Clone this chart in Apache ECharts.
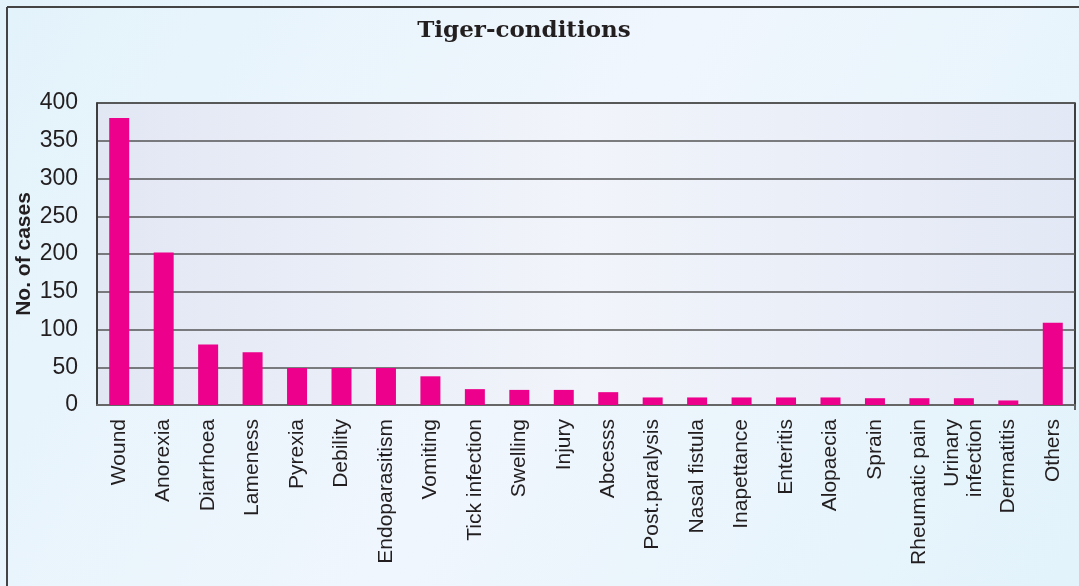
<!DOCTYPE html>
<html>
<head>
<meta charset="utf-8">
<script src="https://cdn.jsdelivr.net/npm/echarts@6/dist/echarts.min.js"></script>
<style>
  html, body { margin: 0; padding: 0; }
  #chart { width: 1079px; height: 586px; }
</style>
</head>
<body>
<div id="chart"></div>
<script>
// Conditions recorded in tigers and number of cases for each
const conditions = [
  'Wound', 'Anorexia', 'Diarrhoea', 'Lameness', 'Pyrexia', 'Debility',
  'Endoparasitism', 'Vomiting', 'Tick infection', 'Swelling', 'Injury',
  'Abcesss', 'Post.paralysis', 'Nasal fistula', 'Inapettance', 'Enteritis',
  'Alopaecia', 'Sprain', 'Rheumatic pain', 'Urinary\ninfection', 'Dermatitis', 'Others'
];
const cases = [380, 202, 80, 70, 49, 49, 49, 38, 21, 20, 20, 17, 10, 10, 10, 10, 10, 9, 9, 9, 6, 109];
const yTicks = { min: 0, max: 400, step: 50 };

const chart = echarts.init(document.getElementById('chart'));

chart.setOption({
  animation: false,
  backgroundColor: new echarts.graphic.LinearGradient(0, 0, 1, 1, [
    { offset: 0, color: '#e3f3fb' },
    { offset: 0.5, color: '#f0f6fd' },
    { offset: 1, color: '#e2f3fb' }
  ]),
  title: {
    text: 'Tiger-conditions',
    left: 519,
    top: 15,
    textAlign: 'center',
    textStyle: {
      fontFamily: 'DejaVu Serif',
      fontWeight: 'bold',
      fontSize: 23,
      color: '#231f20'
    }
  },
  grid: {
    left: 97,
    right: 4,
    top: 103,
    bottom: 181,
    show: true,
    borderWidth: 1.5,
    borderColor: '#333',
    backgroundColor: new echarts.graphic.LinearGradient(0, 0, 1, 0, [
      { offset: 0, color: '#e2e7f4' },
      { offset: 0.5, color: '#f1f4fa' },
      { offset: 1, color: '#e2e8f5' }
    ])
  },
  xAxis: {
    type: 'category',
    data: conditions,
    axisLine: { show: true, lineStyle: { color: '#666', width: 2 } },
    axisTick: { show: false },
    axisLabel: {
      interval: 0,
      rotate: 90,
      margin: 14,
      fontFamily: 'Liberation Sans',
      fontSize: 21,
      color: '#231f20',
      lineHeight: 23
    }
  },
  yAxis: {
    type: 'value',
    min: yTicks.min,
    max: yTicks.max,
    interval: yTicks.step,
    name: 'No. of cases',
    nameLocation: 'middle',
    nameGap: 62,
    nameMoveOverlap: false,
    nameTextStyle: {
      fontFamily: 'Liberation Sans',
      fontWeight: 'bold',
      fontSize: 21,
      color: '#231f20'
    },
    axisLine: { show: true, lineStyle: { color: '#333', width: 1.5 } },
    axisTick: { show: false },
    axisLabel: {
      margin: 19,
      fontFamily: 'Liberation Sans',
      fontSize: 23,
      color: '#231f20'
    },
    splitLine: { show: true, lineStyle: { color: '#555', width: 1.5 } }
  },
  series: [{
    type: 'bar',
    data: cases,
    barWidth: 20,
    itemStyle: { color: '#ec008c' }
  }],
  graphic: [
    { type: 'line', shape: { x1: 7, y1: 7, x2: 7, y2: 586 }, style: { stroke: '#444', lineWidth: 2 } },
    { type: 'line', shape: { x1: 7, y1: 7, x2: 1079, y2: 7 }, style: { stroke: '#444', lineWidth: 2 } },
    { type: 'line', shape: { x1: 1075, y1: 103, x2: 1075, y2: 410 }, style: { stroke: '#333', lineWidth: 1.5 } }
  ]
});
</script>
</body>
</html>
